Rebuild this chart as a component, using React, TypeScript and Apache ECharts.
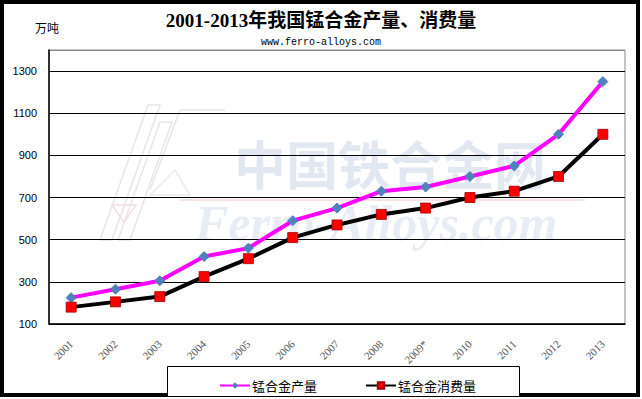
import React, { useEffect, useRef } from "react";
import * as echarts from "echarts";

const years = ["2001", "2002", "2003", "2004", "2005", "2006", "2007", "2008", "2009*", "2010", "2011", "2012", "2013"];
const production = [225, 265, 305, 420, 460, 590, 650, 730, 750, 800, 850, 1000, 1250];
const consumption = [180, 205, 230, 325, 410, 510, 570, 620, 650, 700, 730, 800, 1000];
const seriesNames = ["锰合金产量", "锰合金消费量"];
const titleText = "2001-2013年我国锰合金产量、消费量";
const subText = "www.ferro-alloys.com";
const unitText = "万吨";

export default function App() {
  const ref = useRef<HTMLDivElement>(null);
  useEffect(() => {
    if (!ref.current) return;
    const chart = echarts.init(ref.current, null, { renderer: "svg" });
    const cjk = "'Liberation Serif', 'Noto Sans CJK SC', serif";
    chart.setOption({
      animation: false,
      backgroundColor: "#fff",
      title: [
        {
          text: titleText,
          left: "center",
          top: 6,
          textStyle: { fontSize: 19, fontWeight: "bold", color: "#000", fontFamily: cjk },
        },
        {
          text: subText,
          left: "center",
          top: 32,
          textStyle: { fontSize: 10, fontWeight: "normal", color: "#000", fontFamily: "'Liberation Mono', monospace" },
        },
      ],
      graphic: [
        // watermark logo
        { type: "polygon", silent: true, shape: { points: [[100, 240], [148, 105], [160, 105], [112, 240]] }, style: { fill: "none", stroke: "#e6e6e6", lineWidth: 1.5 } },
        { type: "polygon", silent: true, shape: { points: [[118, 240], [160, 122], [172, 122], [130, 240]] }, style: { fill: "none", stroke: "#e6e6e6", lineWidth: 1.5 } },
        { type: "polyline", silent: true, shape: { points: [[150, 190], [180, 110], [225, 110]] }, style: { fill: "none", stroke: "#e6e6e6", lineWidth: 1.5 } },
        { type: "polygon", silent: true, shape: { points: [[150, 195], [170, 195], [190, 195], [175, 170]] }, style: { fill: "none", stroke: "#eaeaea", lineWidth: 1.5 } },
        { type: "polygon", silent: true, shape: { points: [[112, 205], [136, 205], [124, 222]] }, style: { fill: "none", stroke: "#f3dede", lineWidth: 1.5 } },
        { type: "line", silent: true, shape: { x1: 180, y1: 200, x2: 585, y2: 200 }, style: { stroke: "#f6e2e0", lineWidth: 2 } },
        {
          type: "text", silent: true, x: 234, y: 136,
          style: { text: "中国铁合金网", font: "bold 52px 'Noto Sans CJK SC'", lineHeight: 52, fill: "#e2e8f1" },
        },
        {
          type: "text", silent: true, x: 195, y: 199,
          style: { text: "Ferro-Alloys.com", font: "italic bold 50px 'Liberation Serif'", lineHeight: 48, fill: "#e8edf5" },
        },
        // outer frame
        { type: "rect", silent: true, shape: { x: 2, y: 2, width: 636, height: 393 }, style: { fill: "none", stroke: "#000", lineWidth: 4 } },
        // legend box
        { type: "rect", silent: true, shape: { x: 167.5, y: 366.5, width: 352, height: 30 }, style: { fill: "#fff", stroke: "#000", lineWidth: 1 } },
        {
          type: "text", silent: true, x: 35, y: 21,
          style: { text: unitText, font: "12px 'Noto Sans CJK SC'", fill: "#000" },
        },
      ],
      legend: {
        left: 214,
        top: 374,
        itemGap: 48,
        itemWidth: 30,
        itemHeight: 8,
        textStyle: { fontSize: 13, color: "#000", fontFamily: "'Noto Sans CJK SC'", padding: [0, 0, 0, -3] },
        data: seriesNames,
        z: 10,
      },
      grid: {
        left: 49,
        right: 17,
        top: 50,
        bottom: 75,
        show: true,
        borderColor: "#888",
        borderWidth: 1,
        containLabel: false,
      },
      xAxis: {
        type: "category",
        data: years,
        boundaryGap: true,
        axisLine: { lineStyle: { color: "#000", width: 1.5 } },
        axisTick: { inside: true, length: 4, lineStyle: { color: "#000" } },
        axisLabel: { rotate: 45, fontSize: 11, color: "#555", margin: 18, interval: 0, fontFamily: "'Liberation Serif', serif" },
        splitLine: { show: false },
      },
      yAxis: {
        type: "value",
        min: 100,
        max: 1400,
        interval: 200,
        axisLine: { show: true, lineStyle: { color: "#000", width: 1.5 } },
        axisTick: { show: false },
        axisLabel: {
          fontSize: 11,
          color: "#000",
          margin: 12,
          fontFamily: "'Liberation Sans', sans-serif",
          formatter: (v: number) => (v === 1400 ? "" : String(v)),
        },
        splitLine: {
          show: true,
          lineStyle: { color: ["#000", "#000", "#000", "#000", "#000", "#000", "#000", "#888"], width: 1 },
        },
      },
      series: [
        {
          name: seriesNames[0],
          type: "line",
          data: production,
          symbol: "diamond",
          symbolSize: 10,
          lineStyle: { color: "#ff00ff", width: 4 },
          itemStyle: { color: "#4f81bd", borderColor: "#4f81bd" },
          z: 3,
        },
        {
          name: seriesNames[1],
          type: "line",
          data: consumption,
          symbol: "rect",
          symbolSize: 10,
          lineStyle: { color: "#000", width: 4 },
          itemStyle: { color: "#ff0000", borderColor: "#a00000", borderWidth: 0.8 },
          z: 3,
        },
      ],
    });
    return () => chart.dispose();
  }, []);
  return <div ref={ref} style={{ position: "fixed", left: 0, top: 0, width: 642, height: 399 }} />;
}
